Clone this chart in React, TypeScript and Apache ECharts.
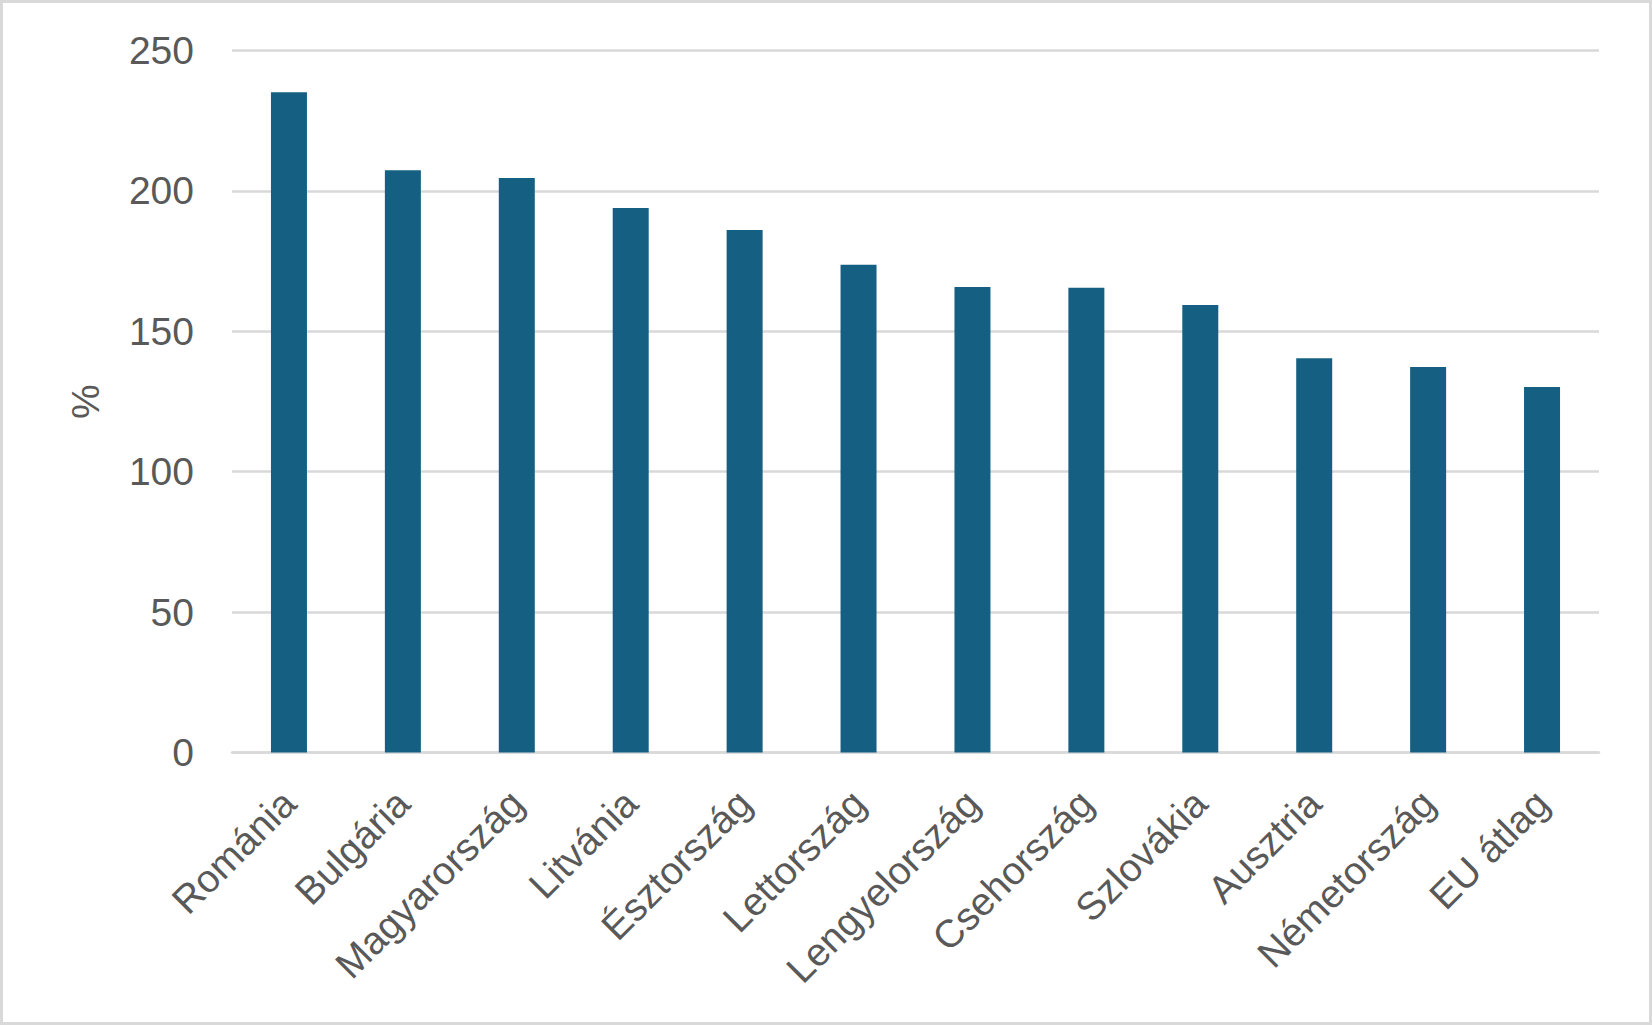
import React, { useEffect, useRef } from "react";
import * as echarts from "echarts";

const categories = [
  "Románia",
  "Bulgária",
  "Magyarország",
  "Litvánia",
  "Észtország",
  "Lettország",
  "Lengyelország",
  "Csehország",
  "Szlovákia",
  "Ausztria",
  "Németország",
  "EU átlag",
];
const values = [235.2, 207.4, 204.6, 193.9, 186.1, 173.7, 165.8, 165.5, 159.4, 140.4, 137.3, 130.2];
const yAxisName = "%";

export default function App() {
  const ref = useRef<HTMLDivElement>(null);
  useEffect(() => {
    document.body.style.margin = "0";
    const chart = echarts.init(ref.current!, null, { renderer: "svg" });
    const font = "'Liberation Sans', Arial, sans-serif";
    chart.setOption({
      animation: false,
      backgroundColor: "#ffffff",
      graphic: [
        {
          type: "rect",
          shape: { x: 1.5, y: 1.5, width: 1649, height: 1022 },
          style: { fill: "none", stroke: "#d9d9d9", lineWidth: 3 },
          silent: true,
        },
      ],
      grid: { left: 232, right: 53, top: 50.6, bottom: 272.5, containLabel: false },
      xAxis: {
        type: "category",
        data: categories,
        axisTick: { show: false },
        axisLine: { lineStyle: { color: "#d9d9d9", width: 2.5 } },
        axisLabel: {
          interval: 0,
          rotate: 45,
          margin: 44,
          color: "#595959",
          fontSize: 39,
          fontFamily: font,
        },
      },
      yAxis: {
        type: "value",
        min: 0,
        max: 250,
        interval: 50,
        name: yAxisName,
        nameLocation: "middle",
        nameRotate: 90,
        nameGap: 127,
        nameTextStyle: { color: "#595959", fontSize: 39, fontFamily: font },
        axisLine: { show: false },
        axisTick: { show: false },
        splitLine: { lineStyle: { color: "#d9d9d9", width: 2.5 } },
        axisLabel: { color: "#595959", fontSize: 39, fontFamily: font, margin: 38 },
      },
      series: [
        {
          type: "bar",
          data: values,
          barWidth: 36,
          itemStyle: { color: "#156082" },
        },
      ],
    });
    return () => chart.dispose();
  }, []);
  return <div ref={ref} style={{ position: "absolute", left: 0, top: 0, width: 1652, height: 1025 }} />;
}
